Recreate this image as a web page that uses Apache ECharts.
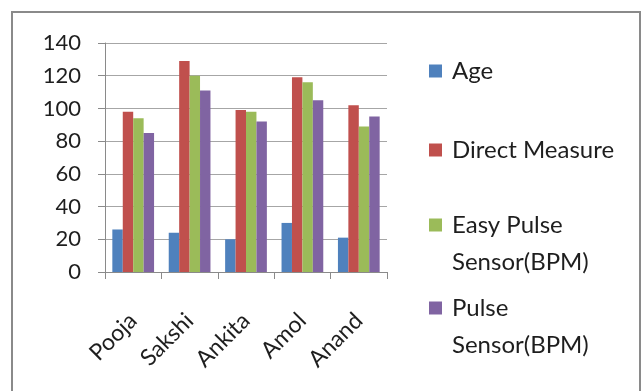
<!DOCTYPE html>
<html>
<head>
<meta charset="utf-8">
<script src="https://cdn.jsdelivr.net/npm/echarts@6/dist/echarts.min.js"></script>
<style>
  html, body { margin: 0; padding: 0; background: #fff; }
  #chart { width: 643px; height: 391px; }
</style>
</head>
<body>
<div id="chart"></div>
<script>
// Heart-rate readings per person, with age for reference
const categories = ['Pooja', 'Sakshi', 'Ankita', 'Amol', 'Anand'];
const age = [26, 24, 20, 30, 21];
const directMeasure = [98, 129, 99, 119, 102];
const easyPulse = [94, 120, 98, 116, 89];
const pulseSensor = [85, 111, 92, 105, 95];
const yTicks = { min: 0, max: 140, interval: 20 };

const seriesNames = ['Age', 'Direct Measure', 'Easy Pulse\nSensor(BPM)', 'Pulse\nSensor(BPM)'];
const seriesData = [age, directMeasure, easyPulse, pulseSensor];
const colors = ['#4F81BD', '#C0504D', '#9BBB59', '#8064A2'];

const FONT = 'Lato, "Open Sans", sans-serif';
const TEXT = '#1e1e1e';
const LINE_H = 37;

// One legend block per series. Two-line names get a blank leading line so the
// swatch (centred on the text block) lines up with the first line of text.
const legendTops = [52.5, 131.5, 169.5, 252.5];
const legends = seriesNames.map((name, i) => ({
  data: [name],
  left: 429,
  top: legendTops[i],
  padding: 0,
  orient: 'vertical',
  icon: 'rect',
  itemWidth: 13,
  itemHeight: 13,
  selectedMode: false,
  formatter: n => (n.indexOf('\n') >= 0 ? ' \n' + n : n),
  textStyle: {
    fontFamily: FONT,
    fontSize: 24,
    color: TEXT,
    lineHeight: LINE_H,
    padding: [0, 0, 0, 5]
  }
}));

const chart = echarts.init(document.getElementById('chart'), null, { renderer: 'canvas' });
chart.setOption({
  backgroundColor: '#fff',
  animation: false,
  color: colors,
  graphic: [{
    type: 'rect',
    shape: { x: 12, y: 12, width: 628, height: 400 },
    style: { fill: 'none', stroke: '#8a8a8a', lineWidth: 2 },
    z: 100
  }],
  legend: legends,
  grid: { left: 105, top: 43, width: 282, height: 229, containLabel: false },
  xAxis: {
    type: 'category',
    data: categories,
    axisLine: { lineStyle: { color: '#8a8a8a', width: 1 } },
    axisTick: { show: true, length: 7, lineStyle: { color: '#8a8a8a' } },
    axisLabel: {
      rotate: 45,
      margin: 45,
      fontFamily: FONT,
      fontSize: 23,
      color: TEXT
    }
  },
  yAxis: {
    type: 'value',
    min: yTicks.min,
    max: yTicks.max,
    interval: yTicks.interval,
    axisLine: { show: true, lineStyle: { color: '#8a8a8a', width: 1 } },
    axisTick: { show: true, length: 7, lineStyle: { color: '#8a8a8a' } },
    axisLabel: {
      margin: 24,
      fontFamily: FONT,
      fontSize: 22,
      color: TEXT
    },
    splitLine: { lineStyle: { color: '#a6a6a6', width: 1 } }
  },
  series: seriesNames.map((name, i) => ({
    name: name,
    type: 'bar',
    data: seriesData[i],
    barGap: '0%',
    barCategoryGap: '26%',
    itemStyle: { color: colors[i] }
  }))
});
</script>
</body>
</html>
